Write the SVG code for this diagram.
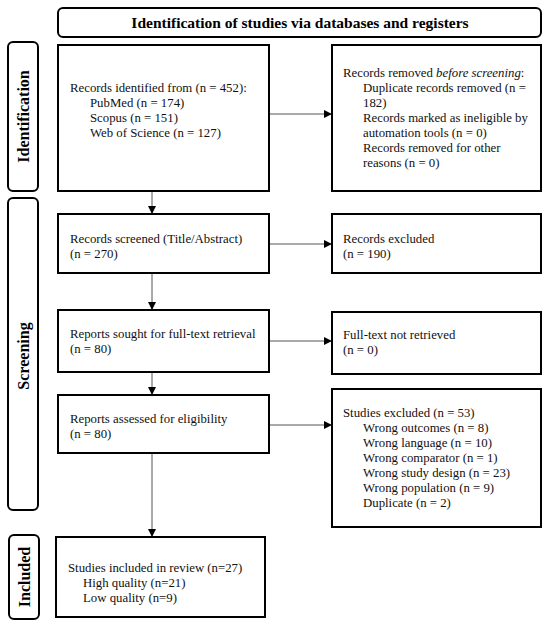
<svg xmlns="http://www.w3.org/2000/svg" width="550" height="628" viewBox="0 0 550 628" font-family="'Liberation Serif', 'DejaVu Serif', serif">
<defs>
<style>
.box{fill:#fff;stroke:#000;stroke-width:2}
.lab{fill:#fff;stroke:#000;stroke-width:2}
.t{font-size:12.8px;fill:#111}
.b{font-size:15.5px;font-weight:bold;fill:#000}
.s{font-size:16px;font-weight:bold;fill:#000}
.c{stroke:#555;stroke-width:1;fill:none}
</style>
<marker id="ah" viewBox="0 0 10 10" refX="10" refY="5" markerWidth="8" markerHeight="8" markerUnits="userSpaceOnUse" orient="auto">
<path d="M0,0 L10,5 L0,10 z" fill="#000"/>
</marker>
</defs>
<rect width="550" height="628" fill="#fff"/>

<g id="title">
<rect class="lab" x="58" y="8" width="483" height="29" rx="5"/>
<text class="b" x="300" y="28" text-anchor="middle">Identification of studies via databases and registers</text>
</g>

<g id="lab-identification">
<rect class="lab" x="8" y="42" width="30" height="149" rx="5"/>
<text class="s" transform="translate(28.5,116.5) rotate(-90)" text-anchor="middle">Identification</text>
</g>
<g id="lab-screening">
<rect class="lab" x="8" y="198" width="30" height="312" rx="5"/>
<text class="s" transform="translate(28.5,356) rotate(-90)" text-anchor="middle">Screening</text>
</g>
<g id="lab-included">
<rect class="lab" x="9" y="535" width="30" height="84" rx="5"/>
<text class="s" transform="translate(29.5,577) rotate(-90)" text-anchor="middle">Included</text>
</g>

<g id="connectors">
<line class="c" x1="269" y1="114" x2="332" y2="114" marker-end="url(#ah)"/>
<line class="c" x1="152" y1="191" x2="152" y2="214" marker-end="url(#ah)"/>
<line class="c" x1="269" y1="244" x2="332" y2="244" marker-end="url(#ah)"/>
<line class="c" x1="152" y1="273" x2="152" y2="310" marker-end="url(#ah)"/>
<line class="c" x1="269" y1="341" x2="332" y2="341" marker-end="url(#ah)"/>
<line class="c" x1="152" y1="372" x2="152" y2="395" marker-end="url(#ah)"/>
<line class="c" x1="269" y1="425" x2="332" y2="425" marker-end="url(#ah)"/>
<line class="c" x1="152" y1="453" x2="152" y2="537" marker-end="url(#ah)"/>
</g>

<g id="n1">
<rect class="box" x="58" y="45" width="211" height="146"/>
<text class="t" x="70" y="92">Records identified from (n = 452):</text>
<text class="t" x="90" y="107">PubMed (n = 174)</text>
<text class="t" x="90" y="122">Scopus (n = 151)</text>
<text class="t" x="90" y="137">Web of Science (n = 127)</text>
</g>
<g id="n2">
<rect class="box" x="332" y="45" width="209" height="146"/>
<text class="t" x="343" y="77">Records removed <tspan font-style="italic">before screening</tspan>:</text>
<text class="t" x="363" y="92">Duplicate records removed  (n =</text>
<text class="t" x="363" y="107">182)</text>
<text class="t" x="363" y="122">Records marked as ineligible by</text>
<text class="t" x="363" y="137">automation tools (n = 0)</text>
<text class="t" x="363" y="152">Records removed for other</text>
<text class="t" x="363" y="167">reasons (n = 0)</text>
</g>
<g id="n3">
<rect class="box" x="58" y="214" width="211" height="59"/>
<text class="t" x="70" y="243">Records screened (Title/Abstract)</text>
<text class="t" x="70" y="258">(n = 270)</text>
</g>
<g id="n4">
<rect class="box" x="332" y="214" width="209" height="59"/>
<text class="t" x="343" y="243">Records excluded</text>
<text class="t" x="343" y="258">(n = 190)</text>
</g>
<g id="n5">
<rect class="box" x="58" y="310" width="211" height="62"/>
<text class="t" x="70" y="338">Reports sought for full-text retrieval</text>
<text class="t" x="70" y="353">(n = 80)</text>
</g>
<g id="n6">
<rect class="box" x="332" y="312" width="209" height="62"/>
<text class="t" x="343" y="339">Full-text not retrieved</text>
<text class="t" x="343" y="354">(n = 0)</text>
</g>
<g id="n7">
<rect class="box" x="58" y="395" width="211" height="58"/>
<text class="t" x="70" y="423">Reports assessed for eligibility</text>
<text class="t" x="70" y="438">(n = 80)</text>
</g>
<g id="n8">
<rect class="box" x="332" y="389" width="209" height="138"/>
<text class="t" x="343" y="417">Studies excluded (n = 53)</text>
<text class="t" x="363" y="432">Wrong outcomes (n = 8)</text>
<text class="t" x="363" y="447">Wrong language (n = 10)</text>
<text class="t" x="363" y="462">Wrong comparator (n = 1)</text>
<text class="t" x="363" y="477">Wrong study design (n = 23)</text>
<text class="t" x="363" y="492">Wrong population (n = 9)</text>
<text class="t" x="363" y="507">Duplicate (n = 2)</text>
</g>
<g id="n9">
<rect class="box" x="56" y="537" width="209" height="80"/>
<text class="t" x="68" y="572">Studies included in review (n=27)</text>
<text class="t" x="83" y="587">High quality (n=21)</text>
<text class="t" x="83" y="602">Low quality (n=9)</text>
</g>
</svg>
